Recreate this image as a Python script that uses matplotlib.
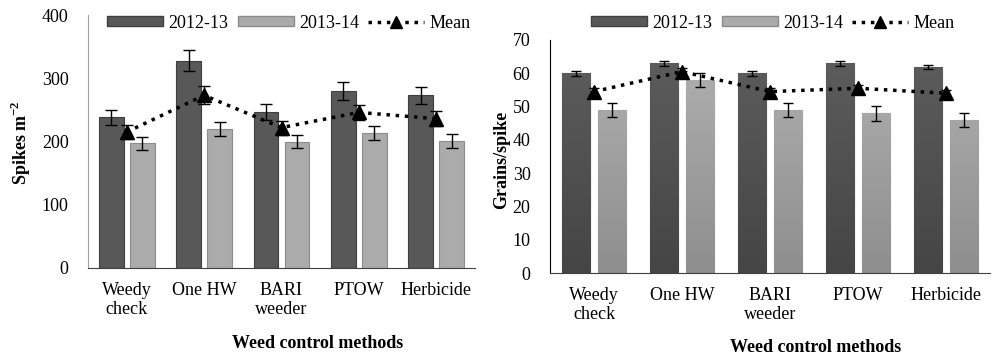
import numpy as np
import matplotlib
matplotlib.use("Agg")
import matplotlib.pyplot as plt
from matplotlib.patches import Patch
from matplotlib.lines import Line2D
from matplotlib.colors import LinearSegmentedColormap

plt.rcParams['font.family'] = ['Liberation Serif', 'DejaVu Serif']
plt.rcParams['mathtext.fontset'] = 'custom'
plt.rcParams['mathtext.bf'] = 'Liberation Serif:bold'
plt.rcParams['mathtext.rm'] = 'Liberation Serif'

methods = ["Weedy\ncheck", "One HW", "BARI\nweeder", "PTOW", "Herbicide"]

# spikes per m2
spk_1213 = [238, 328, 246, 280, 273]
spk_1213_err = [12.5, 17, 12.5, 14, 13.5]
spk_1314 = [197, 220, 200, 214, 201]
spk_1314_err = [10, 11, 10, 11, 10.5]
spk_mean = [215, 273, 222, 246, 236]
spk_mean_err = [11, 14, 11, 12, 12]

# grains per spike
grn_1213 = [60, 63, 60, 63, 62]
grn_1213_err = [0.7, 0.7, 0.7, 0.7, 0.6]
grn_1314 = [49, 58, 49, 48, 46]
grn_1314_err = [2.2, 2.2, 2.1, 2.2, 2.0]
grn_mean = [54.5, 60.5, 54.5, 55.5, 54]
grn_mean_err = [1.0, 1.2, 1.0, 1.0, 1.0]

dark = '#585858'
light = '#ababab'

fig = plt.figure(figsize=(9.93, 3.6), dpi=100)
ax1 = fig.add_axes([88/993, 92/360, 387/993, 253/360])
ax2 = fig.add_axes([550/993, 87/360, 440/993, 233/360])


def shade(ax, bars, top, bottom, ymax):
    # vertical gradient fill clipped to each bar
    cmap = LinearSegmentedColormap.from_list('g', [bottom, top])
    grad = np.linspace(0, 1, 256).reshape(-1, 1)
    for b in bars:
        x0 = b.get_x()
        im = ax.imshow(grad, cmap=cmap, origin='lower', aspect='auto',
                       extent=(x0, x0 + b.get_width(), 0, ymax), zorder=b.get_zorder() + 0.1)
        im.set_clip_path(b)


def draw(ax, v1, e1, v2, e2, m, me, ymax, ystep, capsize, spine_col, gradient=False):
    x = np.arange(len(methods))
    w = 0.32
    ek = dict(elinewidth=1, capthick=1, ecolor='black', zorder=5)
    b1 = ax.bar(x - 0.2, v1, w, color=dark, edgecolor='#3f3f3f', linewidth=0.8,
                yerr=e1, capsize=capsize, error_kw=ek)
    b2 = ax.bar(x + 0.2, v2, w, color=light, edgecolor='#8c8c8c', linewidth=0.8,
                yerr=e2, capsize=capsize, error_kw=ek)
    if gradient:
        shade(ax, b1, '#5e5e5e', '#454545', ymax)
        shade(ax, b2, '#b2b2b2', '#8e8e8e', ymax)
    ax.errorbar(x, m, yerr=me, color='black', linestyle=':', linewidth=2.5,
                marker='^', markersize=10, capsize=capsize, elinewidth=1, capthick=1, zorder=6)
    ax.set_xlim(-0.5, len(methods) - 0.5)
    ax.set_ylim(0, ymax)
    ax.set_yticks(np.arange(0, ymax + 1, ystep))
    ax.set_xticks(x)
    ax.set_xticklabels(methods, fontsize=13, linespacing=1.15)
    ax.tick_params(axis='y', length=0, pad=14, labelsize=13)
    ax.tick_params(axis='x', length=0, pad=10)
    for s in ['top', 'right']:
        ax.spines[s].set_visible(False)
    ax.spines['left'].set_color(spine_col)
    ax.spines['bottom'].set_color('#404040')


draw(ax1, spk_1213, spk_1213_err, spk_1314, spk_1314_err, spk_mean, spk_mean_err,
     400, 100, 4.5, '#a0a0a0')
draw(ax2, grn_1213, grn_1213_err, grn_1314, grn_1314_err, grn_mean, grn_mean_err,
     70, 10, 3.5, 'black', gradient=True)

fig.text(21/993, 1 - 143/360, 'Spikes m$^{\\mathbf{-2}}$', rotation=90, ha='center', va='center',
         fontsize=13, fontweight='bold')
fig.text(502/993, 1 - 160/360, 'Grains/spike', rotation=90, ha='center', va='center',
         fontsize=13, fontweight='bold')

fig.text(318/993, 1 - 343/360, 'Weed control methods', ha='center', va='center',
         fontsize=13, fontweight='bold')
fig.text(816/993, 1 - 348/360, 'Weed control methods', ha='center', va='center',
         fontsize=13, fontweight='bold')

handles = [Patch(facecolor=dark, edgecolor='#3f3f3f'),
           Patch(facecolor=light, edgecolor='#8c8c8c'),
           Line2D([], [], color='black', linestyle=':', linewidth=2.5, marker='^', markersize=9)]
labels = ['2012-13', '2013-14', 'Mean']
for cx in [289, 773]:
    fig.legend(handles, labels, loc='center', bbox_to_anchor=(cx/993, 1 - 23/360),
               ncol=3, frameon=False, fontsize=13, handlelength=3.1, handleheight=0.5,
               handletextpad=0.3, columnspacing=0.5)

fig.savefig('out.png', dpi=100)
